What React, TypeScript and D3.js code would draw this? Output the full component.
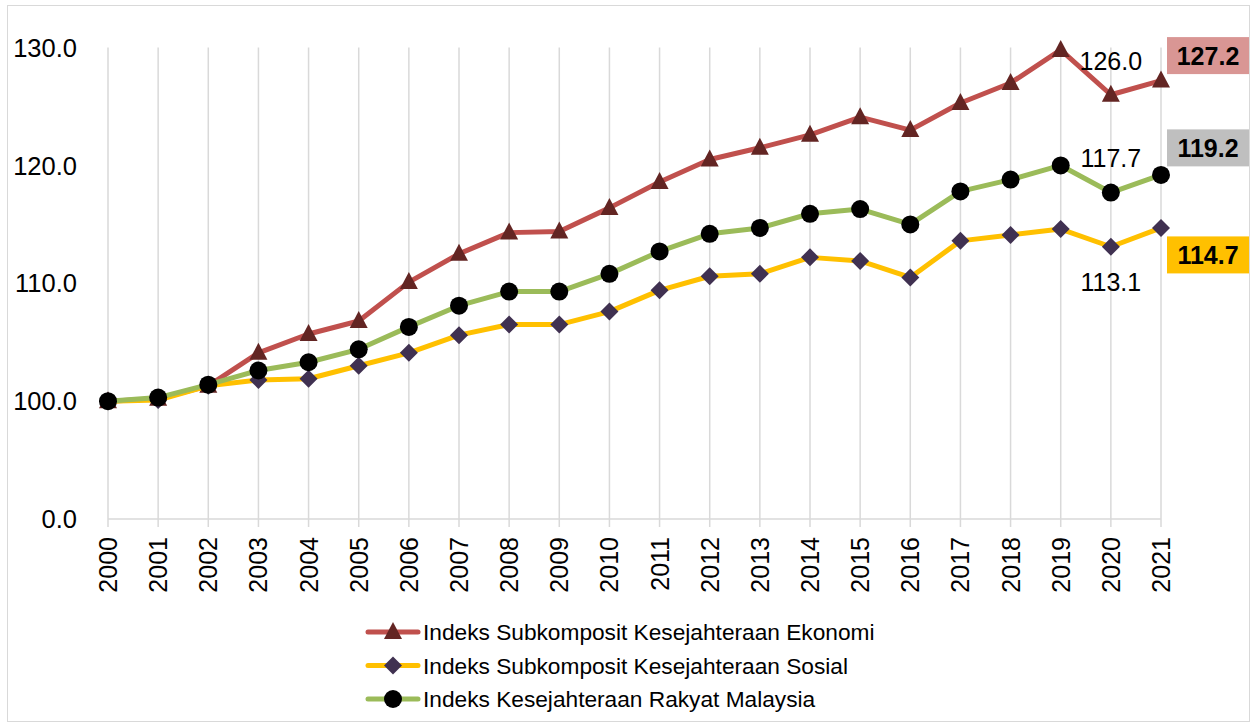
import React from "react";
import * as d3 from "d3";

const years = ["2000","2001","2002","2003","2004","2005","2006","2007","2008","2009","2010","2011","2012","2013","2014","2015","2016","2017","2018","2019","2020","2021"];
const ekonomi = [100.0, 100.2, 101.3, 104.1, 105.7, 106.8, 110.1, 112.5, 114.3, 114.4, 116.4, 118.6, 120.5, 121.5, 122.6, 124.1, 123.0, 125.3, 127.0, 129.8, 126.0, 127.2];
const sosial = [100.0, 100.1, 101.3, 101.8, 101.9, 103.0, 104.1, 105.6, 106.5, 106.5, 107.6, 109.4, 110.6, 110.8, 112.2, 111.9, 110.5, 113.6, 114.1, 114.6, 113.1, 114.7];
const rakyat = [100.0, 100.3, 101.4, 102.6, 103.3, 104.4, 106.3, 108.1, 109.3, 109.3, 110.8, 112.7, 114.2, 114.7, 115.9, 116.3, 115.0, 117.8, 118.8, 120.0, 117.7, 119.2];

// broken axis: lowest tick position stands for 0.0
const tickValues = [90, 100, 110, 120, 130];
const tickLabels = ["0.0", "100.0", "110.0", "120.0", "130.0"];

const seriesNames = [
  "Indeks Subkomposit Kesejahteraan Ekonomi",
  "Indeks Subkomposit Kesejahteraan Sosial",
  "Indeks Kesejahteraan Rakyat Malaysia",
];

const FONT = "'Liberation Sans', Arial, sans-serif";

type Marker = "triangle" | "diamond" | "circle";

const series = [
  { name: seriesNames[0], values: ekonomi, line: "#C0504D", fill: "#632523", marker: "triangle" as Marker, boxFill: "#D99694", boxDy: -25 },
  { name: seriesNames[1], values: sosial, line: "#FFC000", fill: "#403151", marker: "diamond" as Marker, boxFill: "#FFC000", boxDy: 27 },
  { name: seriesNames[2], values: rakyat, line: "#9BBB59", fill: "#000000", marker: "circle" as Marker, boxFill: "#BFBFBF", boxDy: -27 },
];

function markerEl(type: Marker, x: number, y: number, fill: string, key?: string | number) {
  if (type === "triangle") {
    const p = `M${x},${y - 10} L${x + 9},${y + 7} L${x - 9},${y + 7} Z`;
    return <path key={key} d={p} fill={fill} />;
  }
  if (type === "diamond") {
    const p = `M${x},${y - 9} L${x + 9},${y} L${x},${y + 9} L${x - 9},${y} Z`;
    return <path key={key} d={p} fill={fill} />;
  }
  return <circle key={key} cx={x} cy={y} r={9} fill={fill} />;
}

export default function App() {
  const W = 1252, H = 725;
  const x = d3.scalePoint<string>().domain(years).range([108, 1161]);
  const y = d3.scaleLinear().domain([90, 130]).range([519, 47.6]);
  const line = d3.line<number>().x((_, i) => x(years[i]) as number).y((d) => y(d));

  const lastYear = years[years.length - 1];
  const prevYear = years[years.length - 2];
  const xLast = x(lastYear) as number;
  const xPrev = x(prevYear) as number;

  return (
    <div style={{ position: "absolute", left: 0, top: 0 }}>
      <svg width={W} height={H} style={{ display: "block", fontFamily: FONT }}>
        <rect x={0} y={0} width={W} height={H} fill="#fff" />
        <rect x={7.5} y={5.5} width={1242} height={716} fill="none" stroke="#D9D9D9" strokeWidth={1} />
        {/* vertical gridlines */}
        {years.map((yr) => (
          <line key={yr} x1={x(yr)} x2={x(yr)} y1={y(130)} y2={527} stroke="#D9D9D9" strokeWidth={1.5} />
        ))}
        {/* x axis line */}
        <line x1={x(years[0])} x2={xLast} y1={y(90)} y2={y(90)} stroke="#D9D9D9" strokeWidth={1.5} />
        {/* y tick labels */}
        {tickValues.map((v, i) => (
          <text key={v} x={77} y={y(v)} dy="0.36em" textAnchor="end" fontSize={25.5} fill="#000">
            {tickLabels[i]}
          </text>
        ))}
        {/* x tick labels */}
        {years.map((yr) => (
          <text key={yr} transform={`translate(${x(yr)},537) rotate(-90)`} textAnchor="end" dy="0.36em" fontSize={25} fill="#000">
            {yr}
          </text>
        ))}
        {/* series */}
        {series.map((s, si) => (
          <g key={si}>
            <path d={line(s.values) || ""} fill="none" stroke={s.line} strokeWidth={5} strokeLinejoin="round" />
            {s.values.map((v, i) => markerEl(s.marker, x(years[i]) as number, y(v), s.fill, i))}
          </g>
        ))}
        {/* data labels for previous year */}
        <text x={xPrev} y={y(ekonomi[ekonomi.length - 2]) - 34} dy="0.36em" textAnchor="middle" fontSize={25} fill="#000">
          {ekonomi[ekonomi.length - 2].toFixed(1)}
        </text>
        <text x={xPrev} y={y(rakyat[rakyat.length - 2]) - 35} dy="0.36em" textAnchor="middle" fontSize={25} fill="#000">
          {rakyat[rakyat.length - 2].toFixed(1)}
        </text>
        <text x={xPrev} y={y(sosial[sosial.length - 2]) + 35} dy="0.36em" textAnchor="middle" fontSize={25} fill="#000">
          {sosial[sosial.length - 2].toFixed(1)}
        </text>
        {/* boxed labels for last year */}
        {series.map((s, si) => {
          const v = s.values[s.values.length - 1];
          const cy = y(v) + s.boxDy;
          return (
            <g key={"b" + si}>
              <rect x={xLast + 6} y={cy - 18.5} width={82} height={37} fill={s.boxFill} />
              <text x={xLast + 47} y={cy} dy="0.36em" textAnchor="middle" fontSize={25} fontWeight="bold" fill="#000">
                {v.toFixed(1)}
              </text>
            </g>
          );
        })}
        {/* legend */}
        {series.map((s, si) => {
          const ly = 632 + si * 33.5;
          return (
            <g key={"l" + si}>
              <line x1={368} x2={418} y1={ly} y2={ly} stroke={s.line} strokeWidth={5} strokeLinecap="round" />
              {markerEl(s.marker, 393, ly, s.fill)}
              <text x={423} y={ly} dy="0.36em" fontSize={22.7} fill="#000">
                {s.name}
              </text>
            </g>
          );
        })}
      </svg>
    </div>
  );
}
